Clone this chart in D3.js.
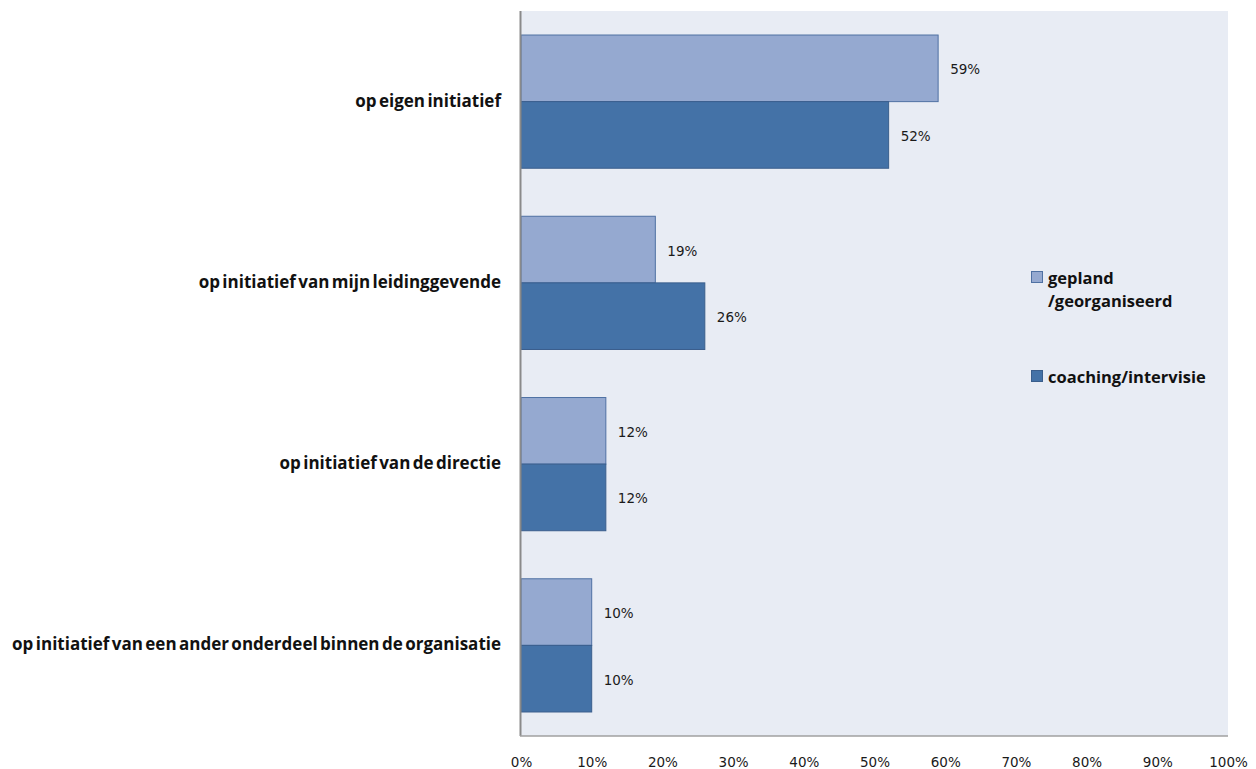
<!DOCTYPE html>
<html>
<head>
<meta charset="utf-8">
<script src="https://cdn.jsdelivr.net/npm/d3@7"></script>
<style>
  body { margin: 0; background: #fff; }
  svg { display: block; }
</style>
</head>
<body>
<svg id="chart" width="1256" height="769"></svg>
<script>
// Categories (top to bottom) and the two series, in percent
const categories = [
  "op eigen initiatief",
  "op initiatief van mijn leidinggevende",
  "op initiatief van de directie",
  "op initiatief van een ander onderdeel binnen de organisatie"
];
const seriesNames = ["gepland /georganiseerd", "coaching/intervisie"];
const gepland = [59, 19, 12, 10];
const coaching = [52, 26, 12, 10];
const xTicks = [0, 10, 20, 30, 40, 50, 60, 70, 80, 90, 100];

const colors = ["#95A9D0", "#4472A7"];
const strokes = ["#4F71A3", "#3A5E8C"];

const svg = d3.select("#chart");
const plot = { left: 521, right: 1228, top: 11, bottom: 736 };

const x = d3.scaleLinear().domain([0, 100]).range([plot.left, plot.right]);
const y = d3.scaleBand().domain(categories).range([plot.top, plot.bottom])
  .paddingInner(0.265).paddingOuter(0.1325);
const inner = d3.scaleBand().domain([0, 1]).range([0, y.bandwidth()]);

// plot background
svg.append("rect")
  .attr("x", plot.left).attr("y", plot.top)
  .attr("width", plot.right - plot.left).attr("height", plot.bottom - plot.top)
  .attr("fill", "#E8ECF4");

const rows = categories.map((c, i) => ({ cat: c, vals: [gepland[i], coaching[i]] }));

const g = svg.append("g");
rows.forEach(r => {
  r.vals.forEach((v, s) => {
    g.append("rect")
      .attr("x", x(0))
      .attr("y", y(r.cat) + inner(s))
      .attr("width", x(v) - x(0))
      .attr("height", inner.bandwidth())
      .attr("fill", colors[s])
      .attr("stroke", strokes[s])
      .attr("stroke-width", 1);
    g.append("text")
      .attr("x", x(v) + 12)
      .attr("y", y(r.cat) + inner(s) + inner.bandwidth() / 2 + 6)
      .attr("font-family", "DejaVu Sans, sans-serif")
      .attr("font-size", 13.5)
      .attr("fill", "#1a1a1a")
      .text(v + "%");
  });
});

// category labels
svg.append("g").selectAll("text").data(categories).join("text")
  .attr("x", 501)
  .attr("y", d => y(d) + y.bandwidth() / 2 + 5)
  .attr("text-anchor", "end")
  .attr("font-family", "Open Sans, sans-serif")
  .attr("font-weight", "bold")
  .attr("font-size", 17)
  .attr("fill", "#111")
  .attr("word-spacing", -2)
  .text(d => d);

// axis lines
svg.append("line")
  .attr("x1", plot.left - 0.5).attr("x2", plot.left - 0.5)
  .attr("y1", plot.top).attr("y2", plot.bottom)
  .attr("stroke", "#8a8a8a").attr("stroke-width", 2);
svg.append("line")
  .attr("x1", plot.left - 1).attr("x2", plot.right)
  .attr("y1", plot.bottom).attr("y2", plot.bottom)
  .attr("stroke", "#a0a0a0").attr("stroke-width", 1.5);

// x axis tick labels
const xAxis = d3.axisBottom(x).tickValues(xTicks).tickSize(0).tickFormat(d => d + "%");
const ax = svg.append("g").attr("transform", `translate(0,${plot.bottom + 18})`).call(xAxis);
ax.select(".domain").remove();
ax.selectAll("text")
  .attr("font-family", "DejaVu Sans, sans-serif")
  .attr("font-size", 13.5)
  .attr("fill", "#1a1a1a");

// legend
const legend = svg.append("g").attr("font-family", "Open Sans, sans-serif")
  .attr("font-weight", "bold").attr("font-size", 16.5).attr("fill", "#111");
const legendItems = [
  { lines: ["gepland", "/georganiseerd"], y: 278 },
  { lines: ["coaching/intervisie"], y: 377 }
];
legendItems.forEach((it, i) => {
  legend.append("rect")
    .attr("x", 1031.5).attr("y", it.y - 6.5)
    .attr("width", 11).attr("height", 11)
    .attr("fill", colors[i]).attr("stroke", strokes[i]);
  it.lines.forEach((ln, j) => {
    legend.append("text")
      .attr("x", 1048).attr("y", it.y + 6 + j * 23)
      .text(ln);
  });
});
</script>
</body>
</html>
